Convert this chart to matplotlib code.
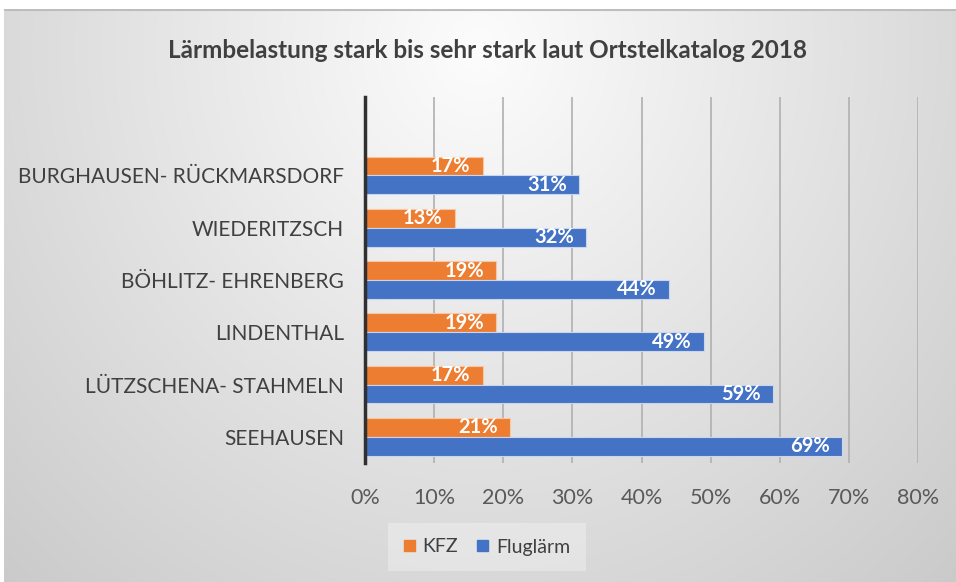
import numpy as np
import matplotlib
matplotlib.use("Agg")
import matplotlib.pyplot as plt
from matplotlib.patches import Patch

categories = ["BURGHAUSEN- RÜCKMARSDORF", "WIEDERITZSCH", "BÖHLITZ- EHRENBERG",
              "LINDENTHAL", "LÜTZSCHENA- STAHMELN", "SEEHAUSEN"]
kfz = [17, 13, 19, 19, 17, 21]
fluglaerm = [31, 32, 44, 49, 59, 69]
xticks = [0, 10, 20, 30, 40, 50, 60, 70, 80]
title = "Lärmbelastung stark bis sehr stark laut Ortstelkatalog 2018"

plt.rcParams['font.family'] = ['Lato', 'DejaVu Sans']

W, H = 956, 582
fig = plt.figure(figsize=(W / 100, H / 100), dpi=100)
fig.patch.set_facecolor("white")

# gradient background
bx0, by0 = 4, 9
bg = fig.add_axes([bx0 / W, 0, (W - bx0) / W, (H - by0) / H])
bg.set_axis_off()
yy, xx = np.mgrid[0:H - by0, 0:W - bx0]
r = np.sqrt(((xx - 474) / 560.0) ** 2 + ((yy - 40) / 600.0) ** 2)
v = 0.99 - 0.16 * r
img = np.dstack([v, v, v]).clip(0, 1)
bg.imshow(img, aspect="auto", extent=[0, 1, 0, 1], origin="upper")
bg.set_xlim(0, 1)
bg.set_ylim(0, 1)
bg.plot([0, 1], [0.999, 0.999], color="#bdbdbd", lw=1.5)

x0, x1 = 365, 918
yt, yb = 97, 463
ax = fig.add_axes([x0 / W, (H - yb) / H, (x1 - x0) / W, (yb - yt) / H])
ax.patch.set_alpha(0)

n = len(categories)
pos = np.arange(n)[::-1].astype(float)  # first category on top
h = 0.36
ax.barh(pos + h / 2, kfz, height=h, color="#ED7D31", edgecolor="#f6c7a6", lw=0.8, zorder=3, label="KFZ")
ax.barh(pos - h / 2, fluglaerm, height=h, color="#4472C4", edgecolor="#c9d6ee", lw=0.8, zorder=3, label="Fluglärm")

for p, a, b in zip(pos, kfz, fluglaerm):
    ax.annotate(f"{a}%", (a, p + h / 2), xytext=(-9, 0), textcoords="offset points",
                ha="right", va="center", color="white", fontsize=14.5, fontweight="bold", zorder=4)
    ax.annotate(f"{b}%", (b, p - h / 2), xytext=(-9, 0), textcoords="offset points",
                ha="right", va="center", color="white", fontsize=14.5, fontweight="bold", zorder=4)

ax.set_xlim(0, 80)
ax.set_ylim(-0.5, n + 0.5)
ax.set_xticks(xticks)
ax.set_xticklabels([f"{t}%" for t in xticks], color="#595959", fontsize=15.5)
ax.set_yticks(pos)
ax.set_yticklabels(categories, color="#404040", fontsize=15)
ax.tick_params(axis="x", length=0, pad=18)
ax.tick_params(axis="y", length=0, pad=15)
ax.grid(axis="x", color="#b0b0b0", lw=1.2, zorder=0)
for s in ["top", "right", "bottom"]:
    ax.spines[s].set_visible(False)
ax.spines["left"].set_color("#303030")
ax.spines["left"].set_linewidth(2.5)
ax.spines["left"].set_zorder(5)

fig.text(488 / W, 1 - 50 / H, title, ha="center", va="center", fontsize=17.5,
         fontweight="bold", color="#404040")

handles = [Patch(color="#ED7D31", label="KFZ"), Patch(color="#4472C4", label="Fluglärm")]
leg = fig.legend(handles=handles, loc="center", bbox_to_anchor=(487 / W, 1 - 547 / H),
                 ncol=2, frameon=True, fontsize=14, handlelength=0.55, handleheight=0.55,
                 handletextpad=0.4, columnspacing=1.0, borderpad=0.8, borderaxespad=0)
leg.get_frame().set_facecolor("#ffffff")
leg.get_frame().set_alpha(0.3)
leg.get_frame().set_edgecolor("none")
leg.get_frame().set_boxstyle("square", pad=0.0)
for t in leg.get_texts():
    t.set_color("#404040")

fig.savefig("out.png", dpi=100)
